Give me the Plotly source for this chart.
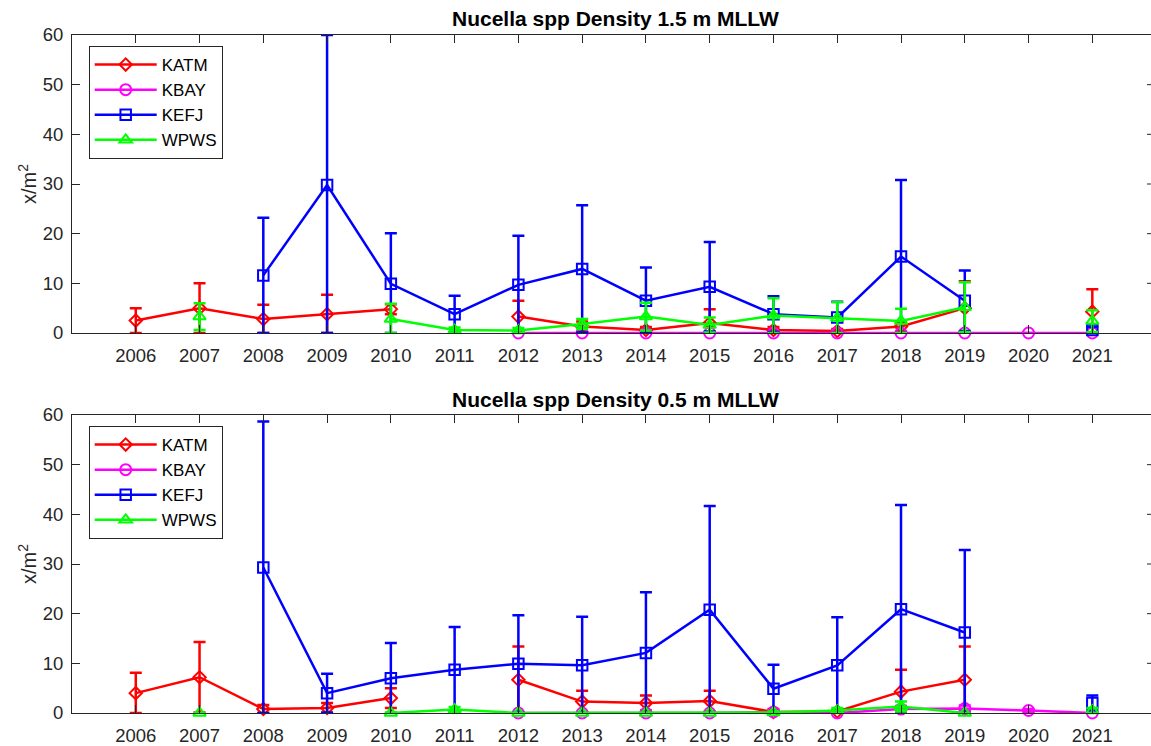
import plotly.graph_objects as go

YEARS = list(range(2006, 2022))
X_TICK_LABELS = [str(y) for y in YEARS]
Y_TICKS = [0, 10, 20, 30, 40, 50, 60]

SITES = ["KATM", "KBAY", "KEFJ", "WPWS"]

# ---- 1.5 m MLLW ----
KATM_15 = [2.5, 5.0, 2.8, 3.8, 4.8, None, 3.3, 1.3, 0.6, 2.0, 0.6, 0.4, 1.3, 5.0, None, 4.3]
KATM_15_ERR = [2.5, 5.0, 2.9, 3.9, 1.0, None, 3.2, 1.0, 0.6, 2.8, 0.6, 0.4, 1.0, 5.4, None, 4.5]
KBAY_15 = [None, None, None, None, None, None, 0.0, 0.0, 0.0, 0.0, 0.0, 0.0, 0.0, 0.0, 0.0, 0.0]
KBAY_15_ERR = [None, None, None, None, None, None, 0.0, 0.0, 0.0, 0.0, 0.0, 0.0, 0.0, 0.0, 0.0, 0.0]
KEFJ_15 = [None, None, 11.6, 29.8, 9.9, 3.8, 9.7, 12.9, 6.5, 9.3, 3.8, 3.1, 15.4, 6.5, None, 0.6]
KEFJ_15_ERR = [None, None, 11.6, 30.2, 10.2, 3.7, 9.9, 12.8, 6.7, 9.0, 3.6, 3.2, 15.4, 6.1, None, 0.6]
WPWS_15 = [None, 3.3, None, None, 2.8, 0.6, 0.5, 1.8, 3.3, 1.6, 3.5, 3.0, 2.4, 5.2, None, 2.4]
WPWS_15_ERR = [None, 2.7, None, None, 3.1, 0.5, 0.5, 1.0, 2.8, 1.5, 3.5, 3.2, 2.5, 5.0, None, 2.2]

# ---- 0.5 m MLLW ----
KATM_05 = [4.0, 7.2, 0.8, 1.0, 3.0, None, 6.7, 2.3, 2.0, 2.4, 0.2, 0.3, 4.3, 6.7, None, None]
KATM_05_ERR = [4.1, 7.1, 0.8, 1.0, 2.0, None, 6.7, 2.2, 1.5, 2.1, 0.6, 0.3, 4.4, 6.7, None, None]
KBAY_05 = [None, None, None, None, None, None, 0.0, 0.0, 0.0, 0.0, 0.2, 0.0, 0.8, 0.9, 0.5, 0.0]
KBAY_05_ERR = [None, None, None, None, None, None, 0.0, 0.0, 0.0, 0.0, 0.3, 0.1, 0.6, 0.6, 0.3, 0.0]
KEFJ_05 = [None, None, 29.3, 4.0, 7.0, 8.7, 9.9, 9.6, 12.1, 20.8, 4.9, 9.6, 20.9, 16.2, None, 2.0]
KEFJ_05_ERR = [None, None, 29.4, 3.9, 7.1, 8.6, 9.8, 9.8, 12.2, 20.9, 4.8, 9.7, 21.0, 16.6, None, 1.5]
WPWS_05 = [None, 0.0, None, None, 0.0, 0.7, 0.0, 0.0, 0.0, 0.0, 0.1, 0.5, 1.3, 0.0, None, 0.5]
WPWS_05_ERR = [None, 0.0, None, None, 0.1, 0.5, 0.0, 0.0, 0.0, 0.0, 0.2, 0.5, 1.0, 0.0, None, 0.5]

TITLES = ["Nucella spp Density 1.5 m MLLW", "Nucella spp Density 0.5 m MLLW"]
Y_LABEL = "x/m<sup>2</sup>"

COLORS = {"KATM": "#FF0000", "KBAY": "#FF00FF", "KEFJ": "#0000FF", "WPWS": "#00FF00"}
SYMBOLS = {"KATM": "diamond-open", "KBAY": "circle-open", "KEFJ": "square-open", "WPWS": "triangle-up-open"}
SIZES = {"KATM": 9.5, "KBAY": 11, "KEFJ": 10.5, "WPWS": 11}

panels = [
    {"KATM": (KATM_15, KATM_15_ERR), "KBAY": (KBAY_15, KBAY_15_ERR),
     "KEFJ": (KEFJ_15, KEFJ_15_ERR), "WPWS": (WPWS_15, WPWS_15_ERR)},
    {"KATM": (KATM_05, KATM_05_ERR), "KBAY": (KBAY_05, KBAY_05_ERR),
     "KEFJ": (KEFJ_05, KEFJ_05_ERR), "WPWS": (WPWS_05, WPWS_05_ERR)},
]

W, H = 1151, 746
ML, MR, MT, MB = 72, 0, 35, 33
plot_h = H - MT - MB
# pixel positions (top, bottom) of the two axes boxes
top_box = (35, 333)
bot_box = (415, 713)


def dom(box):
    t, b = box
    lo = max(0.0, (H - MB - b) / plot_h)
    hi = min(1.0, (H - MB - t) / plot_h)
    return [lo, hi]


FONT = "Liberation Sans, Arial, Helvetica, sans-serif"
AX_COLOR = "#262626"

fig = go.Figure()

for i, panel in enumerate(panels):
    xa = "x" if i == 0 else "x2"
    ya = "y" if i == 0 else "y2"
    leg = "legend" if i == 0 else "legend2"
    for s in SITES:
        vals, errs = panel[s]
        minus = [None if (v is None or e is None) else min(e, v) for v, e in zip(vals, errs)]
        fig.add_trace(go.Scatter(
            x=YEARS, y=vals, name=s, mode="lines+markers",
            xaxis=xa, yaxis=ya, legend=leg,
            line=dict(color=COLORS[s], width=2.5),
            marker=dict(symbol=SYMBOLS[s], size=SIZES[s], color=COLORS[s],
                        line=dict(color=COLORS[s], width=2)),
            error_y=dict(type="data", symmetric=False, array=errs, arrayminus=minus,
                         color=COLORS[s], thickness=2.5, width=6, visible=True),
            connectgaps=False, cliponaxis=False,
        ))

x_common = dict(
    range=[2005, 2005 + (W - ML - MR) / 63.77], tickmode="array", tickvals=YEARS,
    ticktext=X_TICK_LABELS, ticks="inside", ticklen=8, tickcolor=AX_COLOR,
    showline=True, linecolor=AX_COLOR, linewidth=1, mirror="ticks",
    showgrid=False, zeroline=False, ticklabelstandoff=6, automargin=False,
    tickfont=dict(family=FONT, size=18.5, color=AX_COLOR),
)
y_common = dict(
    range=[0, 60], tickmode="array", tickvals=Y_TICKS, ticks="inside", ticklen=8,
    tickcolor=AX_COLOR, showline=True, linecolor=AX_COLOR, linewidth=1,
    showgrid=False, zeroline=False, ticklabelstandoff=4, automargin=False,
    tickfont=dict(family=FONT, size=18.5, color=AX_COLOR),
)

fig.update_layout(
    width=W, height=H,
    margin=dict(l=ML, r=MR, t=MT, b=MB, autoexpand=False),
    paper_bgcolor="white", plot_bgcolor="white",
    showlegend=True,
    xaxis=dict(domain=[0, 1], anchor="y", **x_common),
    yaxis=dict(domain=dom(top_box), anchor="x", **y_common),
    xaxis2=dict(domain=[0, 1], anchor="y2", **x_common),
    yaxis2=dict(domain=dom(bot_box), anchor="x2", **y_common),
)

pw = W - ML - MR
for i, box in enumerate([top_box, bot_box]):
    t, b = box
    leg_top = (H - MB - (t + 11)) / plot_h
    legd = dict(
        x=(88.7 - ML) / pw, y=leg_top, xanchor="left", yanchor="top",
        bgcolor="white", bordercolor=AX_COLOR, borderwidth=1,
        font=dict(family=FONT, size=17, color="black"),
        itemwidth=62, tracegroupgap=0,
    )
    fig.update_layout({"legend" if i == 0 else "legend2": legd})
    # title
    fig.add_annotation(
        text="<b>" + TITLES[i] + "</b>", xref="paper", yref="paper",
        x=(615 - ML) / pw, y=(H - MB - (t - 16)) / plot_h,
        xanchor="center", yanchor="middle", showarrow=False,
        font=dict(family=FONT, size=21, color="black"),
    )
    # y axis label
    fig.add_annotation(
        text=Y_LABEL, xref="paper", yref="paper",
        x=(27 - ML) / pw, y=(H - MB - (t + b) / 2) / plot_h,
        xanchor="center", yanchor="middle", textangle=-90, showarrow=False,
        font=dict(family=FONT, size=20, color=AX_COLOR),
    )
    # right-side tick stubs (axis box continues past the window edge)
    ya = "y" if i == 0 else "y2"
    for tv in Y_TICKS[1:-1]:
        fig.add_shape(type="line", xref="paper", yref=ya,
                      x0=1 - 4 / pw, x1=1, y0=tv, y1=tv,
                      line=dict(color=AX_COLOR, width=1))

fig.write_html("out.html")
